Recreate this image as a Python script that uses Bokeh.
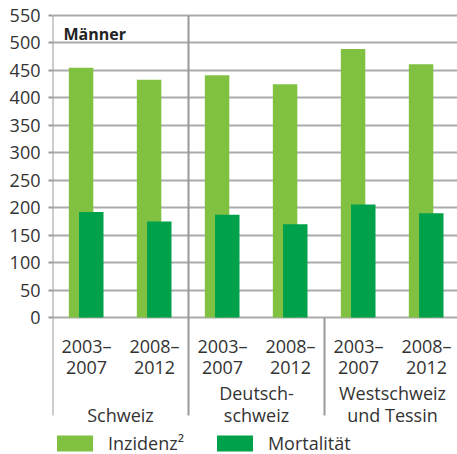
from bokeh.plotting import figure
from bokeh.models import Range1d, FixedTicker, ColumnDataSource, Legend, LegendItem
from bokeh.core.properties import value
from bokeh.embed import file_html
from bokeh.resources import INLINE

# ---- data ----
regions = ["Schweiz", "Deutschschweiz", "Westschweiz und Tessin"]
region_line1 = ["", "Deutsch-", "Westschweiz"]
region_line2 = ["Schweiz", "schweiz", "und Tessin"]
period_start = ["2003–", "2008–"]
period_end = ["2007", "2012"]
inzidenz = [455, 433, 441, 425, 489, 461]
mortalitaet = [192, 175, 187, 170, 206, 190]
panel_label = "Männer"
y_ticks = [0, 50, 100, 150, 200, 250, 300, 350, 400, 450, 500, 550]

LIGHT = "#80c142"
DARK = "#00a14b"
GRID = "#ababab"
SEP = "#999999"
TEXT = "#333333"
FONT = "Open Sans"
FS = "18px"

n = len(inzidenz)
slots = list(range(n))
src = ColumnDataSource(dict(
    x_light=[s + 0.42 for s in slots],
    x_dark=[s + 0.57 for s in slots],
    inz=inzidenz,
    mort=mortalitaet,
))

Y0 = 317  # page pixel of value 0
px_per_unit = 302 / 550.0
y_top = 550 + 15 / px_per_unit
y_bot = -(454 - Y0) / px_per_unit


def py(page_y):
    return (Y0 - page_y) / px_per_unit


p = figure(width=457, height=454, output_backend="svg", toolbar_location=None,
           x_range=Range1d(0, 405 / 68.0), y_range=Range1d(y_bot, y_top),
           x_axis_type=None, min_border=0, min_border_left=52)
p.outline_line_color = None
p.background_fill_color = None
p.border_fill_color = None

yax = p.yaxis[0]
yax.ticker = FixedTicker(ticks=y_ticks)
yax.axis_line_color = None
yax.major_tick_out = 4
yax.major_tick_in = 0
yax.major_tick_line_color = SEP
yax.major_tick_line_width = 2
yax.minor_tick_line_color = None
yax.major_label_standoff = 8
yax.major_label_text_font = FONT
yax.major_label_text_font_size = FS
yax.major_label_text_color = TEXT

p.xgrid.visible = False
p.ygrid.ticker = FixedTicker(ticks=y_ticks)
p.ygrid.grid_line_color = GRID
p.ygrid.grid_line_width = 2

r_inz = p.vbar(x="x_light", top="inz", bottom=0, width=0.36, source=src,
               fill_color=LIGHT, line_color=None)
r_mort = p.vbar(x="x_dark", top="mort", bottom=0, width=0.36, source=src,
                fill_color=DARK, line_color=None)

# separators (axis line and group dividers)
p.segment(x0=[0.0, 2, 4], y0=[550, 550, 0], x1=[0.0, 2, 4], y1=[py(415)] * 3,
          line_color=SEP, line_width=2)

# period labels
xs = [s + 0.5 for s in slots]
p.text(x=xs, y=[py(345)] * n, text=[period_start[i % 2] for i in slots],
       text_align="center", text_baseline="alphabetic",
       text_font=value(FONT), text_font_size=FS, text_color=TEXT)
p.text(x=xs, y=[py(367)] * n, text=[period_end[i % 2] for i in slots],
       text_align="center", text_baseline="alphabetic",
       text_font=value(FONT), text_font_size=FS, text_color=TEXT)

gx = [1, 3, 5]
p.text(x=gx, y=[py(392)] * 3, text=region_line1,
       text_align="center", text_baseline="alphabetic",
       text_font=value(FONT), text_font_size=FS, text_color=TEXT)
p.text(x=gx, y=[py(414)] * 3, text=region_line2,
       text_align="center", text_baseline="alphabetic",
       text_font=value(FONT), text_font_size=FS, text_color=TEXT)

p.text(x=[11 / 68.0], y=[py(33)], text=[panel_label],
       text_align="left", text_baseline="alphabetic",
       text_font=value(FONT), text_font_size="16px", text_font_style="bold",
       text_color="#222222")

legend = Legend(items=[LegendItem(label="Inzidenz²", renderers=[r_inz]),
                       LegendItem(label="Mortalität", renderers=[r_mort])],
                location=(0, -1), orientation="horizontal",
                glyph_width=45, glyph_height=20, label_height=20,
                label_standoff=11, spacing=28, padding=0, margin=0,
                border_line_color=None, background_fill_alpha=0,
                label_text_font=FONT, label_text_font_size=FS,
                label_text_color=TEXT)
p.add_layout(legend, "center")

open("out.html", "w").write(file_html(p, INLINE))
